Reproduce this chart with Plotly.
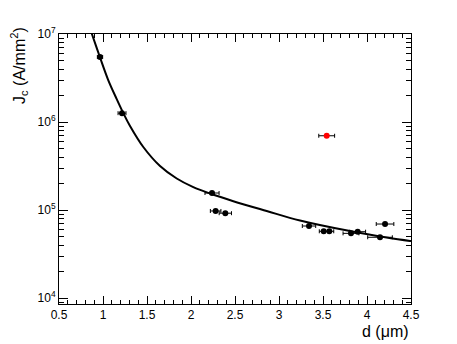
import numpy as np
import plotly.graph_objects as go

# measured points
d_um = [0.966, 1.216, 2.239, 2.28, 2.39, 3.341, 3.508, 3.572, 3.818, 3.894, 4.148, 4.205]
d_err = [0.03, 0.045, 0.08, 0.06, 0.07, 0.076, 0.05, 0.05, 0.09, 0.09, 0.14, 0.1]
jc = [5.48e6, 1.26e6, 1.56e5, 9.75e4, 9.2e4, 6.58e4, 5.73e4, 5.73e4, 5.43e4, 5.67e4, 4.9e4, 6.93e4]

# outlier (red)
d_out = [3.542]
d_out_err = [0.09]
jc_out = [6.98e5]

# fitted curve
fit_d = [0.86, 0.878, 0.9625, 1.057, 1.156, 1.231, 1.307, 1.458, 1.648, 1.838,
         2.026, 2.216, 2.481, 2.86, 3.239, 3.807, 4.489, 4.5]
fit_jc = [1.11e7, 9.75e6, 5.55e6, 3.04e6, 1.82e6, 1.26e6, 9.01e5, 5.2e5, 3.16e5, 2.28e5,
          1.82e5, 1.54e5, 1.26e5, 9.75e4, 7.6e4, 5.77e4, 4.45e4, 4.44e4]

y_tickvals = [1e4, 1e5, 1e6, 1e7]
y_ticktext = ["10<sup>4</sup>", "10<sup>5</sup>", "10<sup>6</sup>", "10<sup>7</sup>"]
x_tickvals = [0.5, 1, 1.5, 2, 2.5, 3, 3.5, 4, 4.5]

font = "Liberation Sans, Arial, sans-serif"

fig = go.Figure()

fig.add_trace(go.Scatter(
    x=fit_d, y=fit_jc, mode="lines", line=dict(color="black", width=2, shape="spline"),
    showlegend=False, hoverinfo="skip",
))

fig.add_trace(go.Scatter(
    x=d_um, y=jc, mode="markers",
    marker=dict(color="black", size=6),
    error_x=dict(type="data", array=d_err, color="black", thickness=1, width=2),
    showlegend=False,
))

fig.add_trace(go.Scatter(
    x=d_out, y=jc_out, mode="markers",
    marker=dict(color="red", size=6),
    error_x=dict(type="data", array=d_out_err, color="black", thickness=1, width=2),
    showlegend=False,
))

fig.update_xaxes(
    range=[0.5, 4.5], tickvals=x_tickvals, ticktext=[str(v) for v in x_tickvals],
    ticks="inside", ticklen=8, tickwidth=1, tickcolor="black",
    minor=dict(ticks="inside", ticklen=4, dtick=0.1, tickcolor="black", showgrid=False),
    showline=True, linecolor="black", linewidth=1, mirror="ticks",
    showgrid=False, zeroline=False,
    tickfont=dict(family=font, size=12, color="black"),
)
fig.update_yaxes(
    type="log", range=[np.log10(8.55e3), 7],
    tickvals=y_tickvals, ticktext=y_ticktext,
    ticks="inside", ticklen=9, tickwidth=1, tickcolor="black",
    minor=dict(ticks="inside", ticklen=5, dtick="D1", tickcolor="black", showgrid=False),
    showline=True, linecolor="black", linewidth=1, mirror="ticks",
    showgrid=False, zeroline=False,
    tickfont=dict(family=font, size=12, color="black"),
)

fig.add_annotation(
    text="d (μm)", xref="paper", yref="paper", x=1.0, y=-0.1,
    xanchor="right", yanchor="middle", showarrow=False,
    font=dict(family=font, size=16, color="black"),
)
fig.add_annotation(
    text="J<sub>c</sub> (A/mm<sup>2</sup>)", xref="paper", yref="paper", x=-0.114, y=1.035,
    xanchor="center", yanchor="top", textangle=-90, showarrow=False,
    font=dict(family=font, size=16, color="black"),
)

# page body has an 8px margin, so the figure is shrunk to fit the window
fig.update_layout(
    width=449, height=336,
    margin=dict(l=51, r=46, t=26, b=40),
    plot_bgcolor="white", paper_bgcolor="white",
    font=dict(family=font, color="black"),
)

fig.write_html("out.html")
